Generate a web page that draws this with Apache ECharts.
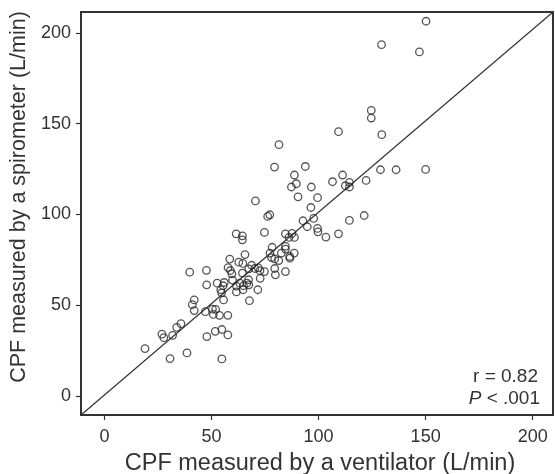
<!DOCTYPE html>
<html>
<head>
<meta charset="utf-8">
<script src="https://cdn.jsdelivr.net/npm/echarts@6/dist/echarts.min.js"></script>
<style>
html,body{margin:0;padding:0;background:#fff;}
#chart{width:555px;height:474px;}
</style>
</head>
<body>
<div id="chart"></div>
<script>
// CPF measured by a ventilator (x) and by a spirometer (y), L/min
const ventilator = [
150.2,129.4,147.1,124.6,124.6,109.3,129.5,81.5,
93.8,79.4,128.9,136.2,150.0,
88.7,111.2,122.2,106.5,114.4,
89.6,87.3,96.6,112.5,114.4,
90.4,99.5,70.5,96.4,
77.2,76.2,121.3,97.7,92.7,114.4,
94.7,99.5,99.7,109.3,103.4,
74.7,84.5,87.6,86.2,88.7,61.5,64.4,64.4,
78.3,84.5,84.5,77.3,82.6,88.6,86.5,86.6,78.0,79.5,81.4,
68.7,79.5,84.5,72.7,79.8,74.7,
67.4,70.2,71.8,72.6,
65.6,58.5,62.7,64.6,57.7,58.8,59.5,64.4,39.8,47.6,
59.8,61.6,63.2,64.9,64.7,66.5,67.3,67.4,61.6,
71.6,47.7,52.6,55.9,55.4,54.3,54.7,
67.7,55.6,41.9,41.0,41.9,47.1,50.4,51.9,50.8,53.7,57.6,
35.7,33.7,31.8,26.8,27.7,18.9,30.6,38.5,47.8,51.7,54.8,57.6,54.8
];
const spirometer = [
206.4,193.5,189.5,157.3,153.1,145.6,143.9,138.4,
126.4,126.1,124.6,124.6,124.8,
121.7,121.7,118.7,118.0,117.6,
116.9,115.1,115.1,115.8,115.1,
109.7,109.2,107.4,103.8,
99.8,98.9,99.4,97.8,96.5,96.7,
93.2,92.3,90.4,89.3,87.5,
90.1,89.3,89.5,87.3,87.3,89.3,88.2,86.0,
81.9,82.4,80.9,78.7,78.7,78.7,76.8,75.9,76.2,75.5,74.6,
72.0,70.2,68.5,64.8,66.7,68.5,
70.0,70.2,70.6,69.0,
77.9,75.4,73.7,73.0,70.7,69.1,67.3,67.7,68.2,69.2,
63.8,60.5,62.1,60.7,58.5,62.1,64.0,61.2,57.3,
58.5,61.2,62.1,62.5,60.7,58.5,56.8,
52.5,52.9,52.9,50.3,47.0,46.4,47.8,47.7,44.9,44.4,44.4,
39.8,37.8,33.4,34.0,32.1,26.1,20.6,23.7,32.7,35.6,36.6,33.6,20.4
];
const tickValues = [0, 50, 100, 150, 200];
const xRange = [-11, 209.5];
const yRange = [-10.5, 211.5];
const statR = 'r = 0.82';
const statP = '< .001';

const points = ventilator.map((v, i) => [v, spirometer[i]]);
const diag = [[xRange[0], yRange[0]], [xRange[1], yRange[1]]];

const txt = '#333';
const font = 'Liberation Sans, Arial, sans-serif';
const chart = echarts.init(document.getElementById('chart'), null, {renderer: 'canvas'});
chart.setOption({
  animation: false,
  backgroundColor: '#fff',
  grid: {left: 81, right: 2, top: 12, bottom: 59, show: true, borderColor: '#333', borderWidth: 2,
         backgroundColor: 'transparent', containLabel: false, outerBoundsMode: 'none'},
  xAxis: {
    type: 'value', min: xRange[0], max: xRange[1],
    name: 'CPF measured by a ventilator (L/min)', nameLocation: 'middle', nameGap: 37,
    nameTextStyle: {fontSize: 23.5, color: txt, fontFamily: font, padding: [0, 0, 0, 6]},
    axisLine: {show: true, onZero: false, lineStyle: {color: '#333', width: 2}},
    axisTick: {show: true, length: 5, lineStyle: {color: '#333', width: 1.2}, customValues: tickValues},
    axisLabel: {fontSize: 18, color: txt, fontFamily: font, margin: 13, customValues: tickValues},
    splitLine: {show: false}
  },
  yAxis: {
    type: 'value', min: yRange[0], max: yRange[1],
    name: 'CPF measured by a spirometer (L/min)', nameLocation: 'middle', nameGap: 41, nameRotate: 90,
    nameTextStyle: {fontSize: 21.5, color: txt, fontFamily: font, padding: [0, 0, 0, 33]},
    axisLine: {show: true, onZero: false, lineStyle: {color: '#333', width: 2}},
    axisTick: {show: true, length: 5, lineStyle: {color: '#333', width: 1.2}, customValues: tickValues},
    axisLabel: {fontSize: 18, color: txt, fontFamily: font, margin: 10, customValues: tickValues},
    splitLine: {show: false}
  },
  series: [
    {
      type: 'line', data: diag, symbol: 'none', silent: true,
      lineStyle: {color: '#333', width: 1.2}, clip: true, z: 1
    },
    {
      type: 'scatter', data: points, symbol: 'circle', symbolSize: 7.5,
      itemStyle: {color: 'rgba(255,255,255,0)', borderColor: '#2a2a2a', borderWidth: 1.3},
      z: 2
    }
  ],
  graphic: [
    {type: 'text', right: 17, top: 367, style: {text: statR, fill: txt, font: '19px ' + font, textAlign: 'right'}},
    {type: 'text', right: 15, top: 389, style: {
      text: '{i|P} ' + statP, fill: txt, fontSize: 19, fontFamily: font,
      rich: {i: {fontStyle: 'italic', fontSize: 19, fontFamily: font, fill: txt}}
    }}
  ]
});
</script>
</body>
</html>
